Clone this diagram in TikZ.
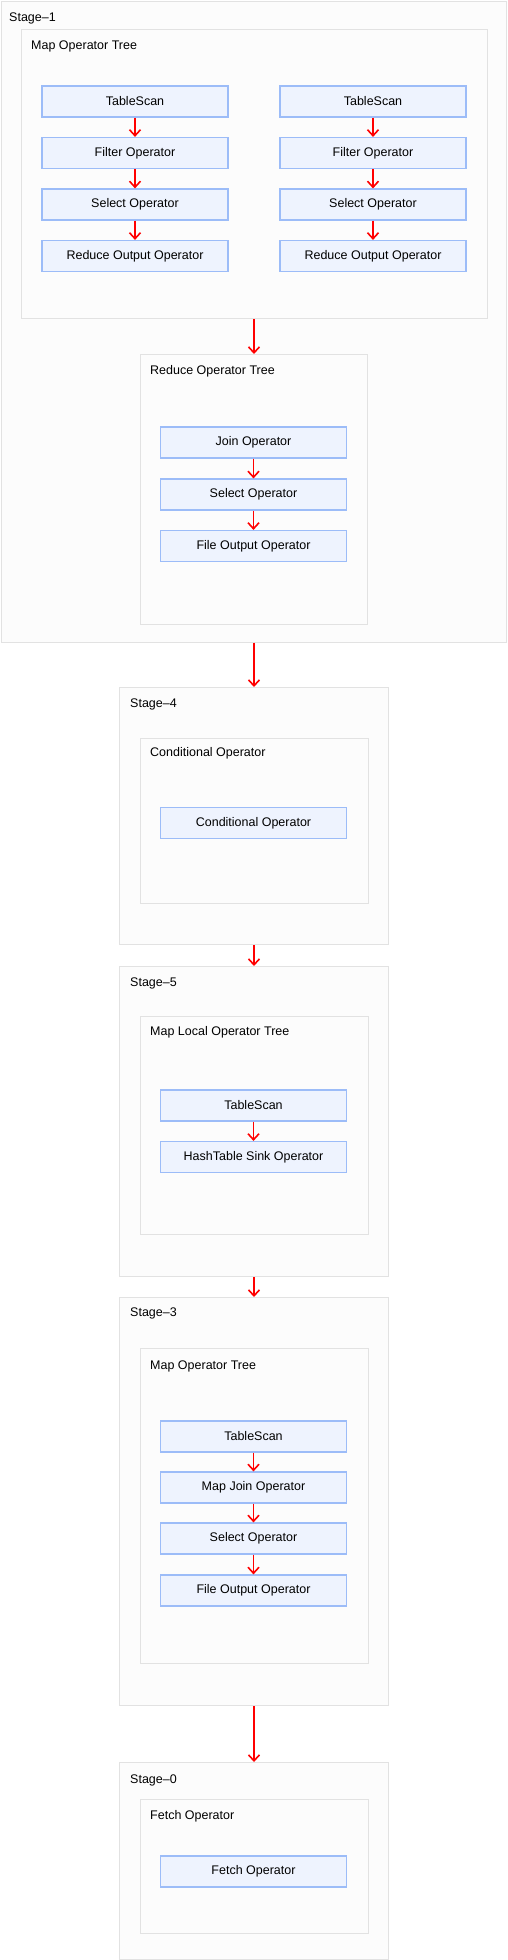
\documentclass[tikz,border=0pt]{standalone}
\usepackage{fontspec}
\setmainfont{Liberation Sans}
\usetikzlibrary{arrows.meta,positioning}
\definecolor{boxgray}{HTML}{E2E2E2}
\definecolor{boxfill}{HTML}{FCFCFC}
\definecolor{opblue}{HTML}{9CBCF8}
\definecolor{opfill}{HTML}{EEF3FE}
\begin{document}
\begin{tikzpicture}[x=1pt,y=-1pt, font=\fontsize{12.5}{15}\selectfont,
	stagebox/.style={draw=boxgray, fill=boxfill, line width=1pt, inner sep=0pt, anchor=north west},
	boxlabel/.style={anchor=west, inner sep=0pt},
	opnode/.style={draw=opblue, fill=opfill, line width=1.2pt, minimum width=186pt, minimum height=31pt, inner sep=0pt},
	flow/.style={draw=red, line width=1.6pt, -{Straight Barb[length=6pt,width=11pt]}}]
	\useasboundingbox (0,0) rectangle (507,1960);
	% Stage-1
	\node[stagebox, minimum width=505pt, minimum height=641pt] (s1) at (0.5,0.5) {};
	\node[boxlabel] (s1t) at (9,18) {Stage--1};
	\node[stagebox, minimum width=466pt, minimum height=289pt] (mt1) at (21,29) {};
	\node[boxlabel] (mt1t) at (31,46) {Map Operator Tree};
	\node[opnode] (ts1) at (135,101.5) {TableScan};
	\node[opnode] (fo1) at (135,153) {Filter Operator};
	\node[opnode] (so1) at (135,204.5) {Select Operator};
	\node[opnode] (ro1) at (135,256) {Reduce Output Operator};
	\node[opnode] (ts2) at (373,101.5) {TableScan};
	\node[opnode] (fo2) at (373,153) {Filter Operator};
	\node[opnode] (so2) at (373,204.5) {Select Operator};
	\node[opnode] (ro2) at (373,256) {Reduce Output Operator};
	\node[stagebox, minimum width=227pt, minimum height=270pt] (rt1) at (140,354) {};
	\node[boxlabel] (rt1t) at (150,371) {Reduce Operator Tree};
	\node[opnode] (jo1) at (253.5,442.5) {Join Operator};
	\node[opnode] (so3) at (253.5,494.5) {Select Operator};
	\node[opnode] (fs1) at (253.5,546) {File Output Operator};
	% Stage-4
	\node[stagebox, minimum width=269pt, minimum height=257pt] (s4) at (119,687) {};
	\node[boxlabel] (s4t) at (130,704) {Stage--4};
	\node[stagebox, minimum width=228pt, minimum height=165pt] (ct4) at (140,738) {};
	\node[boxlabel] (ct4t) at (150,753) {Conditional Operator};
	\node[opnode] (co4) at (253.5,823) {Conditional Operator};
	% Stage-5
	\node[stagebox, minimum width=269pt, minimum height=310pt] (s5) at (119,966) {};
	\node[boxlabel] (s5t) at (130,983) {Stage--5};
	\node[stagebox, minimum width=228pt, minimum height=218pt] (lt5) at (140,1016) {};
	\node[boxlabel] (lt5t) at (150,1032) {Map Local Operator Tree};
	\node[opnode] (ts5) at (253.5,1105.5) {TableScan};
	\node[opnode] (hs5) at (253.5,1157) {HashTable Sink Operator};
	% Stage-3
	\node[stagebox, minimum width=269pt, minimum height=408pt] (s3) at (119,1297) {};
	\node[boxlabel] (s3t) at (130,1313) {Stage--3};
	\node[stagebox, minimum width=228pt, minimum height=315pt] (mt3) at (140,1348) {};
	\node[boxlabel] (mt3t) at (150,1366) {Map Operator Tree};
	\node[opnode] (ts3) at (253.5,1436.5) {TableScan};
	\node[opnode] (mj3) at (253.5,1487.5) {Map Join Operator};
	\node[opnode] (so4) at (253.5,1538.5) {Select Operator};
	\node[opnode] (fs3) at (253.5,1590.5) {File Output Operator};
	% Stage-0
	\node[stagebox, minimum width=269pt, minimum height=197pt] (s0) at (119,1762) {};
	\node[boxlabel] (s0t) at (130,1780) {Stage--0};
	\node[stagebox, minimum width=228pt, minimum height=134pt] (ft0) at (140,1799) {};
	\node[boxlabel] (ft0t) at (150,1816) {Fetch Operator};
	\node[opnode] (fe0) at (253.5,1871.5) {Fetch Operator};
	% arrows
	\draw[flow] (ts1) -- (fo1); \draw[flow] (fo1) -- (so1); \draw[flow] (so1) -- (ro1);
	\draw[flow] (ts2) -- (fo2); \draw[flow] (fo2) -- (so2); \draw[flow] (so2) -- (ro2);
	\draw[flow] (rt1.north |- mt1.south) -- (rt1.north);
	\draw[flow] (jo1) -- (so3); \draw[flow] (so3) -- (fs1);
	\draw[flow] (s4.north |- s1.south) -- (s4.north);
	\draw[flow] (s4) -- (s5);
	\draw[flow] (ts5) -- (hs5);
	\draw[flow] (s5) -- (s3);
	\draw[flow] (ts3) -- (mj3); \draw[flow] (mj3) -- (so4); \draw[flow] (so4) -- (fs3);
	\draw[flow] (s3) -- (s0);
\end{tikzpicture}
\end{document}
